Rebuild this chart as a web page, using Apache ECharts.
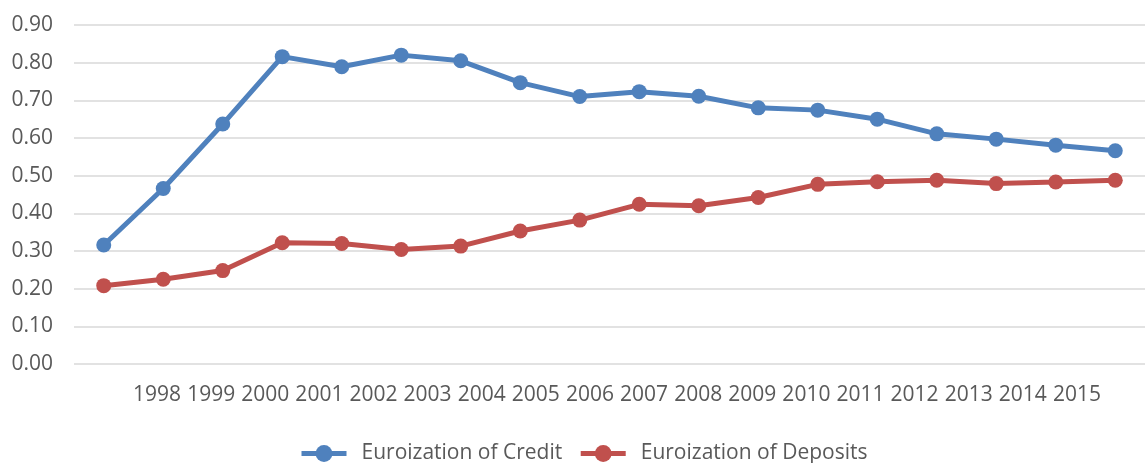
<!DOCTYPE html>
<html>
<head>
<meta charset="utf-8">
<script src="https://cdn.jsdelivr.net/npm/echarts@6/dist/echarts.min.js"></script>
<style>
  html, body { margin: 0; padding: 0; background: #fff; }
  #chart { width: 1145px; height: 463px; }
</style>
</head>
<body>
<div id="chart"></div>
<script>
// Years shown along the horizontal axis
const years = ['1998', '1999', '2000', '2001', '2002', '2003', '2004', '2005', '2006',
  '2007', '2008', '2009', '2010', '2011', '2012', '2013', '2014', '2015'];

// Share of foreign-currency (euro) credit
const creditEuroization = [0.316, 0.466, 0.637, 0.816, 0.789, 0.82, 0.805, 0.747, 0.71,
  0.723, 0.711, 0.68, 0.674, 0.65, 0.611, 0.597, 0.581, 0.566];

// Share of foreign-currency (euro) deposits
const depositEuroization = [0.208, 0.225, 0.248, 0.322, 0.32, 0.304, 0.313, 0.353, 0.382,
  0.424, 0.42, 0.442, 0.477, 0.484, 0.488, 0.479, 0.483, 0.488];

const yTicks = { min: 0, max: 0.9, interval: 0.1 };

const textColor = '#595959';
const font = 'Open Sans';

const chart = echarts.init(document.getElementById('chart'));

chart.setOption({
  animation: false,
  textStyle: { fontFamily: font },
  grid: [
    { left: 74, right: -16, top: 25, bottom: 99, containLabel: false },
    { left: 130, right: 41, top: 25, bottom: 99, containLabel: false }
  ],
  xAxis: [
    {
      type: 'category', gridIndex: 0, data: years, boundaryGap: true,
      axisLine: { show: false }, axisTick: { show: false }, axisLabel: { show: false },
      splitLine: { show: false }
    },
    {
      type: 'category', gridIndex: 1, data: years, boundaryGap: true,
      axisLine: { show: false }, axisTick: { show: false },
      axisLabel: { color: textColor, fontSize: 21, fontFamily: font, margin: 21, interval: 0 },
      splitLine: { show: false }
    }
  ],
  yAxis: [
    {
      type: 'value', gridIndex: 0, min: yTicks.min, max: yTicks.max, interval: yTicks.interval,
      axisLine: { show: false }, axisTick: { show: false },
      axisLabel: {
        color: textColor, fontSize: 21, fontFamily: font, margin: 21,
        formatter: v => v.toFixed(2)
      },
      splitLine: { lineStyle: { color: '#d9d9d9', width: 1.5 } }
    },
    {
      type: 'value', gridIndex: 1, min: yTicks.min, max: yTicks.max,
      show: false, splitLine: { show: false }
    }
  ],
  legend: {
    left: 294, top: 438,
    itemWidth: 45, itemHeight: 21, itemGap: 16,
    lineStyle: { width: 5 },
    textStyle: { color: textColor, fontSize: 21, fontFamily: font, padding: [0, 0, 0, 10] },
    data: ['Euroization of Credit', 'Euroization of Deposits']
  },
  series: [
    {
      name: 'Euroization of Credit', type: 'line', xAxisIndex: 0, yAxisIndex: 0,
      data: creditEuroization,
      symbol: 'circle', symbolSize: 15,
      lineStyle: { color: '#4F81BD', width: 5 },
      itemStyle: { color: '#4F81BD' }
    },
    {
      name: 'Euroization of Deposits', type: 'line', xAxisIndex: 0, yAxisIndex: 0,
      data: depositEuroization,
      symbol: 'circle', symbolSize: 15,
      lineStyle: { color: '#C0504D', width: 5 },
      itemStyle: { color: '#C0504D' }
    }
  ]
});
</script>
</body>
</html>
